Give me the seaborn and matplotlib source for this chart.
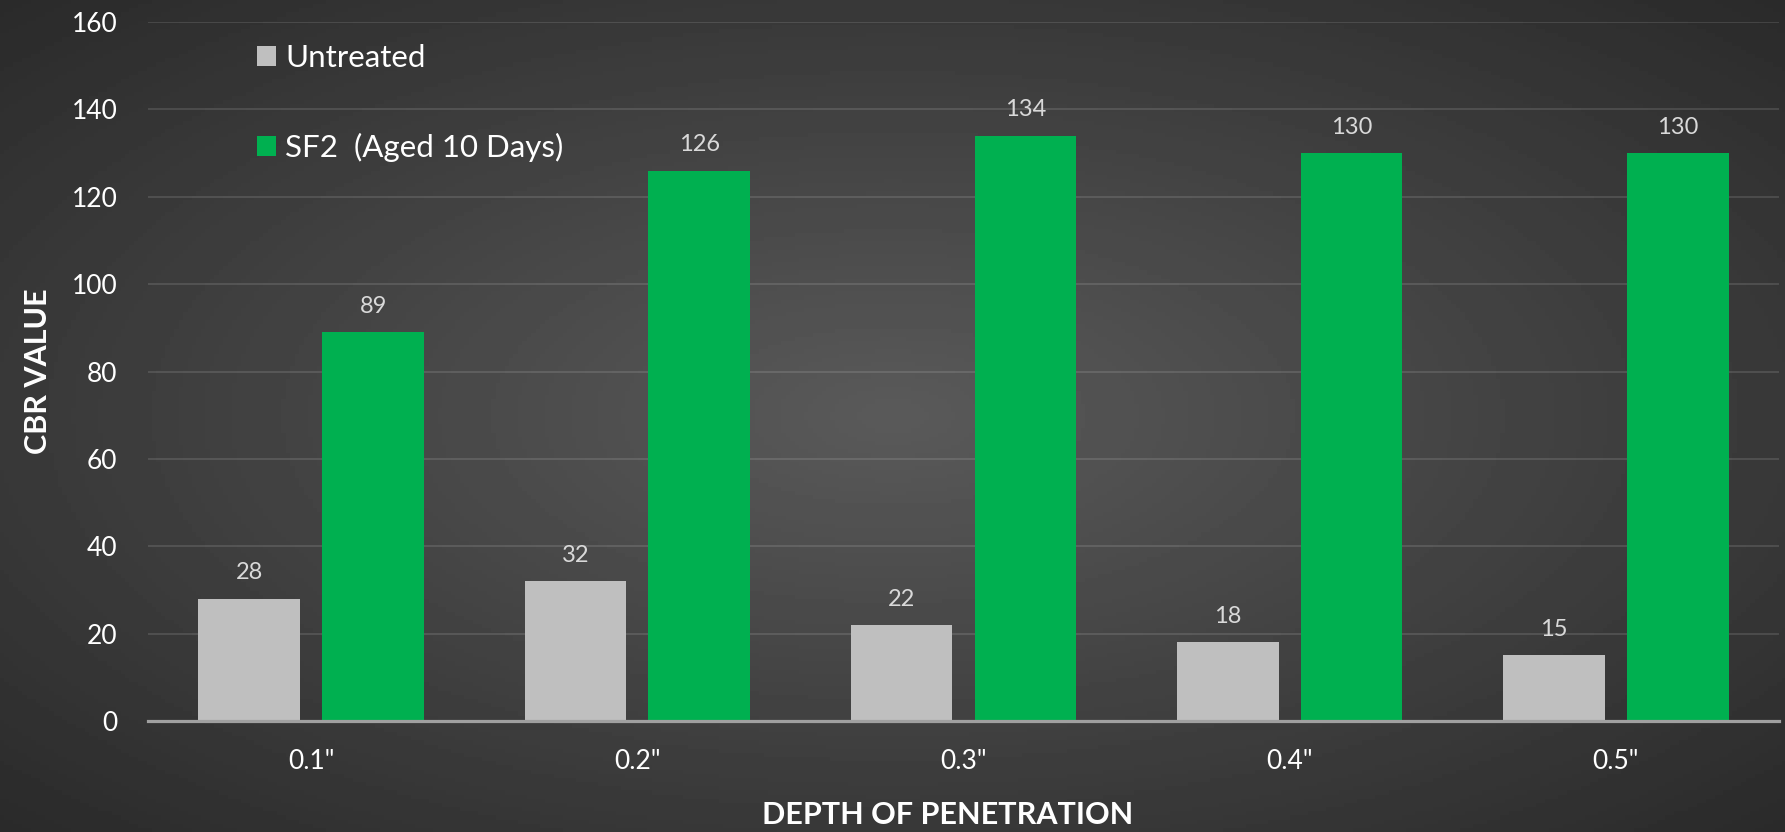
import numpy as np
import pandas as pd
import matplotlib
matplotlib.use("Agg")
import matplotlib.pyplot as plt
import seaborn as sns

# Data
depths = ['0.1"', '0.2"', '0.3"', '0.4"', '0.5"']
untreated = [28, 32, 22, 18, 15]
sf2 = [89, 126, 134, 130, 130]
series_names = ["Untreated", "SF2  (Aged 10 Days)"]
colors = ["#BFBFBF", "#00B050"]
y_ticks = [0, 20, 40, 60, 80, 100, 120, 140, 160]

df = pd.DataFrame({
    "depth": depths * 2,
    "cbr": untreated + sf2,
    "series": [series_names[0]] * len(depths) + [series_names[1]] * len(depths),
})

sns.set_style("white")
plt.rcParams['font.family'] = ['Lato', 'DejaVu Sans']

W, H = 1785, 832
fig = plt.figure(figsize=(W / 100, H / 100), dpi=100)

# Radial grey backdrop
bg = fig.add_axes([0, 0, 1, 1], zorder=-10)
gx, gy = np.meshgrid(np.linspace(0, 1, 400), np.linspace(0, 1, 200))
r = np.sqrt((gx - 0.5) ** 2 + (gy - 0.5) ** 2) / np.sqrt(0.5)
shade = (90 - 48 * r) / 255
bg.imshow(shade, cmap="gray", vmin=0, vmax=1, aspect="auto", extent=[0, 1, 0, 1])
bg.axis("off")

ax = fig.add_axes([148 / W, 1 - 721 / H, (1779 - 148) / W, (721 - 22) / H])
ax.set_facecolor("none")

sns.barplot(data=df, x="depth", y="cbr", hue="series", palette=colors,
            width=0.76, gap=0.18, saturation=1, linewidth=0, ax=ax, zorder=3)

for cont in ax.containers:
    ax.bar_label(cont, padding=11, color="#D9D9D9", fontsize=17)

ax.set_ylim(0, 160)
ax.set_xlim(-0.5, 4.5)
ax.set_yticks(y_ticks)
ax.grid(axis="y", color="white", alpha=0.12, lw=1.4, zorder=0)
ax.set_axisbelow(True)

for s in ["top", "right", "left"]:
    ax.spines[s].set_visible(False)
ax.spines["bottom"].set_color("#A0A0A0")
ax.spines["bottom"].set_linewidth(2.3)
ax.spines["bottom"].set_zorder(4)

ax.tick_params(axis="y", length=0, pad=22, labelsize=19, labelcolor="white")
ax.tick_params(axis="x", length=0, pad=20, labelsize=19, labelcolor="white")

ax.set_xlabel("DEPTH OF PENETRATION", fontsize=22, fontweight="bold", color="white")
ax.set_ylabel("CBR VALUE", fontsize=22, fontweight="bold", color="white")
ax.xaxis.set_label_coords(0.4905, -0.115)
ax.yaxis.set_label_coords(-0.059, 0.5)

handles, labels = ax.get_legend_handles_labels()
ax.legend(handles, labels, loc="upper left", bbox_to_anchor=(257 / W, 1 - 44 / H),
          bbox_transform=fig.transFigure, frameon=False, fontsize=22.5,
          labelcolor="white", handlelength=0.6, handleheight=0.6,
          handletextpad=0.3, labelspacing=1.95, borderpad=0, borderaxespad=0)

plt.savefig("out.png", dpi=100)
